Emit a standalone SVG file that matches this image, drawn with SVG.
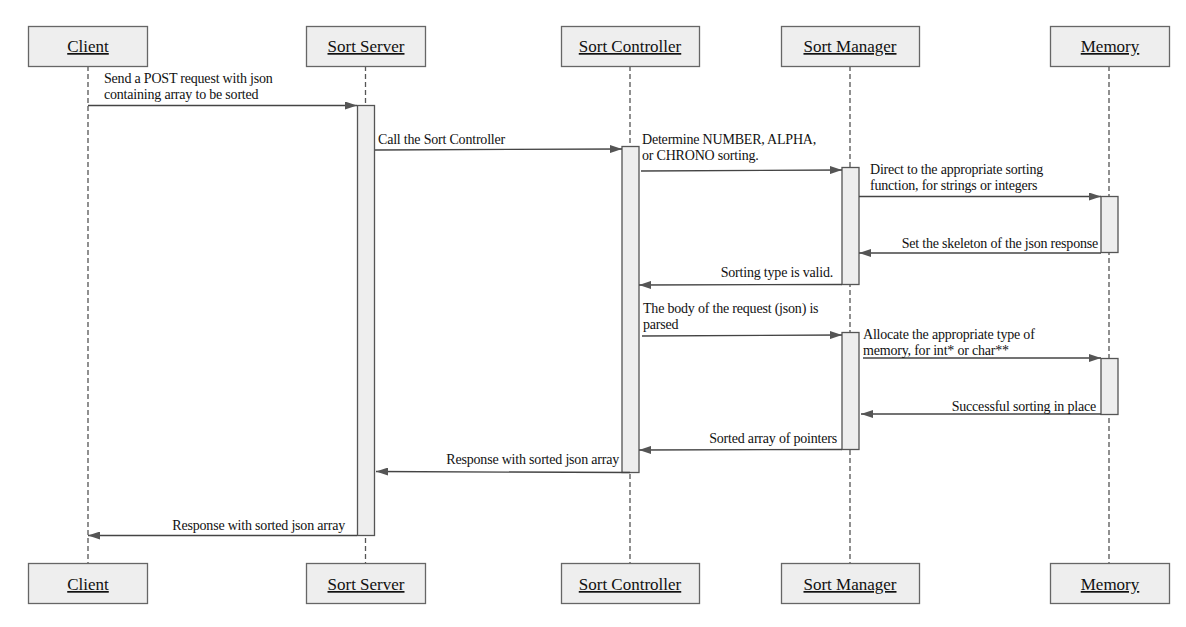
<svg xmlns="http://www.w3.org/2000/svg" width="1186" height="627" viewBox="0 0 1186 627">
<style>
.box{fill:#eeeeee;stroke:#666666;stroke-width:1.3}
.act{fill:#eeeeee;stroke:#555555;stroke-width:1.3}
.life{stroke:#555555;stroke-width:1.3;stroke-dasharray:5 3;fill:none}
.msg{stroke:#444444;stroke-width:1.3;fill:none;marker-end:url(#ah)}
text{font-family:'Liberation Serif','Times New Roman',serif}
.h{font-size:17px;fill:#111;text-anchor:middle;text-decoration:underline}
.t{font-size:14px;fill:#111;letter-spacing:-0.2px}
.r{text-anchor:end}
</style>
<defs>
<marker id="ah" markerWidth="12" markerHeight="8" refX="12" refY="4" orient="auto" markerUnits="userSpaceOnUse">
<path d="M0,0 L12,4 L0,8 z" fill="#555555"/>
</marker>
</defs>
<rect width="1186" height="627" fill="#ffffff"/>
<g id="lifelines">
<line class="life" x1="88" y1="66" x2="88" y2="563"/>
<line class="life" x1="365.5" y1="66" x2="365.5" y2="563"/>
<line class="life" x1="630" y1="66" x2="630" y2="563"/>
<line class="life" x1="850" y1="66" x2="850" y2="563"/>
<line class="life" x1="1109" y1="66" x2="1109" y2="563"/>
</g>
<g id="client">
<rect class="box" x="28.5" y="26.5" width="119" height="40"/><text class="h" x="88" y="52">Client</text>
<rect class="box" x="28.5" y="563.5" width="119" height="40"/><text class="h" x="88" y="590">Client</text>
</g>
<g id="sort-server">
<rect class="box" x="306.5" y="26.5" width="119" height="40"/><text class="h" x="366" y="52">Sort Server</text>
<rect class="box" x="306.5" y="563.5" width="119" height="40"/><text class="h" x="366" y="590">Sort Server</text>
<rect class="act" x="357.5" y="105.5" width="17" height="430"/>
</g>
<g id="sort-controller">
<rect class="box" x="561.5" y="26.5" width="138" height="40"/><text class="h" x="630" y="52">Sort Controller</text>
<rect class="box" x="561.5" y="563.5" width="138" height="40"/><text class="h" x="630" y="590">Sort Controller</text>
<rect class="act" x="622" y="146.5" width="17" height="326"/>
</g>
<g id="sort-manager">
<rect class="box" x="781.5" y="26.5" width="138" height="40"/><text class="h" x="850" y="52">Sort Manager</text>
<rect class="box" x="781.5" y="563.5" width="138" height="40"/><text class="h" x="850" y="590">Sort Manager</text>
<rect class="act" x="842" y="167.5" width="17" height="117"/>
<rect class="act" x="842" y="332.5" width="17" height="117"/>
</g>
<g id="memory">
<rect class="box" x="1050.5" y="26.5" width="119" height="40"/><text class="h" x="1110" y="52">Memory</text>
<rect class="box" x="1050.5" y="563.5" width="119" height="40"/><text class="h" x="1110" y="590">Memory</text>
<rect class="act" x="1101" y="196.5" width="17" height="56"/>
<rect class="act" x="1101" y="358.5" width="17" height="56"/>
</g>
<g id="connectors">
<line class="msg" x1="88" y1="105.5" x2="357" y2="105.5"/>
<line class="msg" x1="375" y1="150" x2="622" y2="149"/>
<line class="msg" x1="641" y1="171" x2="842" y2="170"/>
<line class="msg" x1="859" y1="196.5" x2="1101" y2="196.5"/>
<line class="msg" x1="1101" y1="253" x2="859" y2="253"/>
<line class="msg" x1="842" y1="284.5" x2="639" y2="285"/>
<line class="msg" x1="642" y1="336" x2="842" y2="335"/>
<line class="msg" x1="863" y1="358" x2="1101" y2="358"/>
<line class="msg" x1="1101" y1="414" x2="861" y2="414"/>
<line class="msg" x1="842" y1="449.5" x2="639" y2="450"/>
<line class="msg" x1="630" y1="472.5" x2="376" y2="471.5"/>
<line class="msg" x1="357" y1="535.5" x2="88" y2="535.5"/>
</g>
<g id="labels">
<text class="t" x="104" y="83">Send a POST request with json</text>
<text class="t" x="104" y="99">containing array to be sorted</text>
<text class="t" x="378" y="144">Call the Sort Controller</text>
<text class="t" x="642" y="144">Determine NUMBER, ALPHA,</text>
<text class="t" x="642" y="160">or CHRONO sorting.</text>
<text class="t" x="870" y="174">Direct to the appropriate sorting</text>
<text class="t" x="870" y="190">function, for strings or integers</text>
<text class="t r" x="1098" y="248">Set the skeleton of the json response</text>
<text class="t r" x="833" y="277">Sorting type is valid.</text>
<text class="t" x="643" y="313">The body of the request (json) is</text>
<text class="t" x="643" y="329">parsed</text>
<text class="t" x="863" y="339">Allocate the appropriate type of</text>
<text class="t" x="863" y="355">memory, for int* or char**</text>
<text class="t r" x="1096" y="411">Successful sorting in place</text>
<text class="t r" x="837" y="443">Sorted array of pointers</text>
<text class="t r" x="619" y="464">Response with sorted json array</text>
<text class="t r" x="345" y="530">Response with sorted json array</text>
</g>
</svg>
